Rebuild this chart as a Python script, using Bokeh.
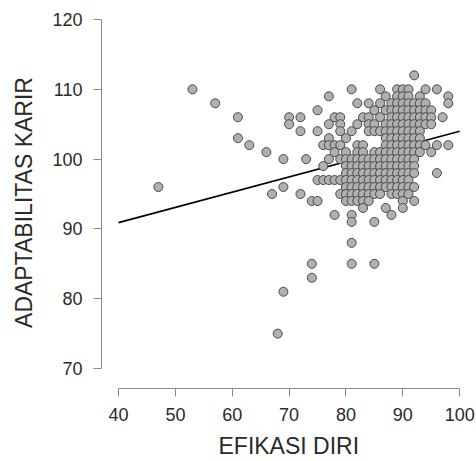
from bokeh.plotting import figure
from bokeh.models import Range1d, FixedTicker, Title
from bokeh.embed import file_html
from bokeh.resources import INLINE

# Data: columns of ADAPTABILITAS KARIR values for each EFIKASI DIRI score
columns = {
    47: [96],
    53: [110],
    57: [108],
    61: [106, 103],
    63: [102],
    66: [101],
    67: [95],
    68: [75],
    69: [100, 96, 81],
    70: [106, 105],
    72: [106, 104, 95],
    73: [100],
    74: [94, 85, 83],
    75: [107, 104, 97, 94],
    76: [102, 99, 97],
    77: [109, 105, 103, 102, 100, 97],
    78: [106, 102, 101, 97, 92],
    79: [106, 105, 104, 102, 100, 97, 95],
    80: [103, 101, 100, 99, 98, 97, 96, 95, 94],
    81: [110, 104, 100, 99, 98, 97, 96, 95, 94, 92, 91, 88, 85],
    82: [108, 105, 102, 101, 100, 99, 98, 97, 96, 95, 94],
    83: [106, 102, 101, 100, 99, 98, 97, 96, 95, 94, 93],
    84: [108, 106, 105, 104, 100, 99, 98, 97, 96, 95, 94],
    85: [107, 105, 104, 101, 100, 99, 98, 97, 96, 95, 91, 85],
    86: [110, 108, 106, 104, 101, 100, 99, 98, 97, 96, 95],
    87: [109, 107, 105, 104, 103, 102, 101, 100, 99, 98, 97, 96, 93],
    88: [108, 107, 106, 105, 104, 103, 102, 101, 100, 99, 98, 97, 96, 95, 92],
    89: [110, 109, 108, 107, 106, 105, 104, 103, 102, 101, 100, 99, 98, 97, 96, 95],
    90: [110, 109, 108, 107, 106, 105, 104, 103, 102, 101, 100, 99, 98, 97, 96, 95, 94, 93],
    91: [110, 109, 108, 107, 106, 105, 104, 103, 102, 101, 100, 99, 98, 97, 96, 95],
    92: [112, 108, 107, 106, 105, 104, 103, 102, 101, 100, 99, 98, 96, 94],
    93: [109, 108, 107, 106, 105, 104, 103, 102, 101],
    94: [110, 108, 107, 106, 105, 102],
    95: [107, 106, 105, 101],
    96: [110, 102, 98],
    97: [106],
    98: [109, 108, 102],
}
efikasi = [x for x, ys in columns.items() for _ in ys]
adaptabilitas = [y for ys in columns.values() for y in ys]

# Regression line end points
reg_x = [40, 100]
reg_y = [90.9, 104.0]

x_ticks = [40, 50, 60, 70, 80, 90, 100]
y_ticks = [70, 80, 90, 100, 110, 120]
x_title = "EFIKASI DIRI"
y_title = "ADAPTABILITAS KARIR"

FONT = "Liberation Sans"
TXT = "#2a2a2a"
AX = "#8a8a8a"

p = figure(width=476, height=461, output_backend="svg", toolbar_location=None,
           x_range=Range1d(37, 100.5), y_range=Range1d(67.135, 120.43),
           min_border_left=101, min_border_right=14, min_border_top=16, min_border_bottom=73)
p.outline_line_color = None
p.xgrid.visible = False
p.ygrid.visible = False

p.line(reg_x, reg_y, line_color="black", line_width=1.6)
p.scatter(efikasi, adaptabilitas, marker="circle", size=9,
          fill_color="#b0b0b0", line_color="#4a4a4a", line_width=1)

for ax, ticks, bounds in ((p.xaxis[0], x_ticks, (40, 100)), (p.yaxis[0], y_ticks, (70, 120))):
    ax.ticker = FixedTicker(ticks=ticks)
    ax.bounds = bounds
    ax.axis_line_color = AX
    ax.major_tick_line_color = AX
    ax.minor_tick_line_color = None
    ax.major_tick_in = 0
    ax.major_tick_out = 8
    ax.major_label_text_font = FONT
    ax.major_label_text_font_size = "18px"
    ax.major_label_text_color = TXT
    ax.axis_label_text_font = FONT
    ax.axis_label_text_font_size = "23px"
    ax.axis_label_text_font_style = "normal"
    ax.axis_label_text_color = TXT

p.yaxis.axis_label = y_title
p.xaxis.major_label_standoff = 11
p.yaxis.major_label_standoff = 11
p.yaxis.axis_label_standoff = 12

# x-axis title as a below-panel title; a leading empty line with a tight
# line height pushes the visible line lower while keeping the frame in place
p.add_layout(Title(text="\n" + x_title, align="left", offset=117, standoff=0,
                   text_font=FONT, text_font_size="23px", text_font_style="normal",
                   text_line_height=0.32, text_color=TXT), "below")

open("out.html", "w").write(file_html(p, INLINE))
